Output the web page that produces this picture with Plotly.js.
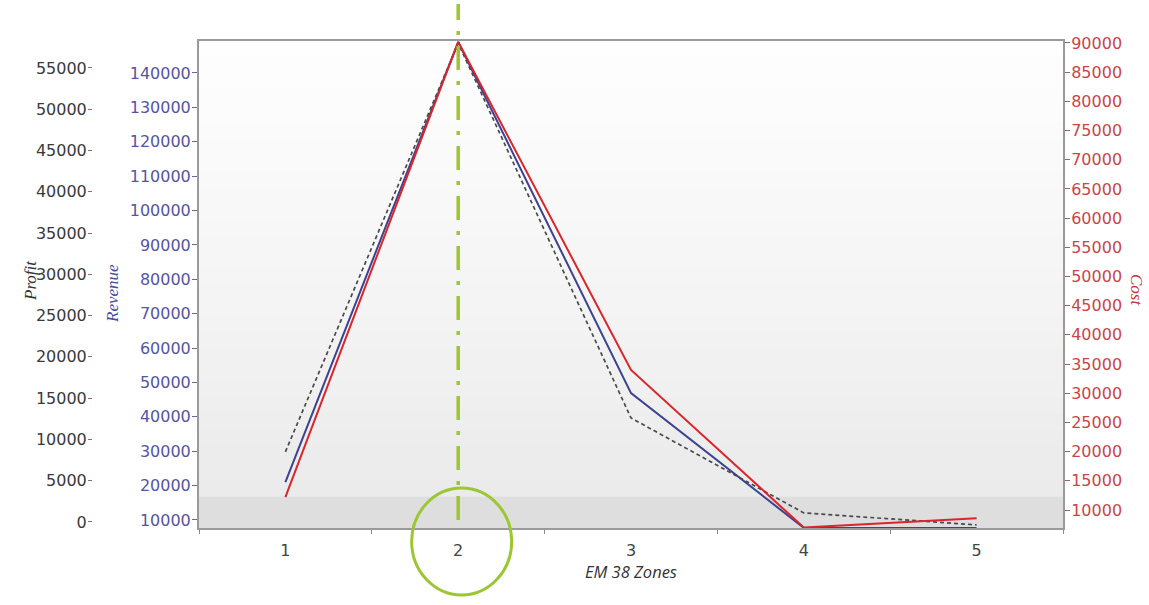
<!DOCTYPE html>
<html>
<head>
<meta charset="utf-8">
<script src="https://cdn.plot.ly/plotly-3.0.1.min.js"></script>
<style>
html,body{margin:0;padding:0;background:#fff;}
#chart{width:1149px;height:605px;}
</style>
</head>
<body>
<div id="chart"></div>
<script>
// ---- data ----
const zones = [1, 2, 3, 4, 5];
const zoneLabels = ['1', '2', '3', '4', '5'];
const revenue = [21000, 149000, 46900, 7700, 7700];
const cost = [12200, 90200, 34000, 7000, 8600];
const profit = [8500, 58000, 12600, 1100, -350];
const highlightZone = 2;

// ---- layout constants ----
const W = 1149, H = 605;
const plotL = 199, plotR = 1063, plotT = 41, plotB = 528;
const xDom = [plotL / W, plotR / W];
const xRange = [0.5, 5.5];
const paperH = plotB - plotT;
function xPaper(v) { return xDom[0] + (v - xRange[0]) / (xRange[1] - xRange[0]) * (xDom[1] - xDom[0]); }
function yPaperFromPx(px) { return (plotB - px) / paperH; }

const tickFam = 'DejaVu Sans, sans-serif';
const green = '#9dc634';

const traces = [
  {x: zones, y: profit, yaxis: 'y2', mode: 'lines', name: 'Profit',
   line: {color: '#4a4a4a', width: 1.7, dash: '4px,3px'}},
  {x: zones, y: revenue, yaxis: 'y', mode: 'lines', name: 'Revenue',
   line: {color: '#3b4391', width: 2}},
  {x: zones, y: cost, yaxis: 'y3', mode: 'lines', name: 'Cost',
   line: {color: '#d8262c', width: 2}}
];

// background gradient bands (white at top to light grey at bottom)
const shapes = [];
const nB = 30;
for (let i = 0; i < nB; i++) {
  const t0 = i / nB, t1 = (i + 1) / nB; // t from bottom 0 to top 1
  const g = Math.round(231 + (254 - 231) * Math.pow(t1, 0.8));
  shapes.push({type: 'rect', xref: 'x domain', yref: 'y domain', x0: 0, x1: 1, y0: t0, y1: t1 + 0.002,
    layer: 'below', line: {width: 0}, fillcolor: `rgb(${g},${g},${g})`});
}
shapes.push({type: 'rect', xref: 'x domain', yref: 'y domain', x0: 0, x1: 1, y0: 0, y1: 0.064,
  layer: 'below', line: {width: 0}, fillcolor: '#dedede'});

// highlight: dash-dot vertical line and circle
const hx = xPaper(highlightZone);
shapes.push({type: 'line', xref: 'paper', yref: 'paper', x0: hx, x1: hx,
  y0: yPaperFromPx(520), y1: yPaperFromPx(4),
  line: {color: green, width: 3.5, dash: '24px,11px,4px,11px'}});
const rx = 50 / (plotR - plotL) * (xDom[1] - xDom[0]);
const cx = xPaper(highlightZone + 0.02);
shapes.push({type: 'circle', xref: 'paper', yref: 'paper',
  x0: cx - rx, x1: cx + rx, y0: yPaperFromPx(595), y1: yPaperFromPx(488),
  line: {color: green, width: 3}});

const titleFont = 'Liberation Serif, serif';
const annotations = [
  {text: '<i>Profit</i>', xref: 'paper', yref: 'paper', x: 30 / W, y: yPaperFromPx(281), showarrow: false,
   textangle: -90, font: {family: titleFont, size: 17, color: '#333'}, xanchor: 'center', yanchor: 'middle'},
  {text: '<i>Revenue</i>', xref: 'paper', yref: 'paper', x: 112 / W, y: yPaperFromPx(294), showarrow: false,
   textangle: -90, font: {family: titleFont, size: 17, color: '#4b4b9b'}, xanchor: 'center', yanchor: 'middle'},
  {text: '<i>Cost</i>', xref: 'paper', yref: 'paper', x: 1137 / W, y: yPaperFromPx(290), showarrow: false,
   textangle: 90, font: {family: titleFont, size: 17, color: '#c8343a'}, xanchor: 'center', yanchor: 'middle'}
];

const layout = {
  width: W, height: H,
  paper_bgcolor: '#ffffff',
  plot_bgcolor: 'rgba(0,0,0,0)',
  showlegend: false,
  margin: {l: 0, r: 0, t: plotT, b: H - plotB, pad: 0},
  xaxis: {
    domain: xDom, range: xRange, tickvals: zones, ticktext: zoneLabels,
    ticks: '', showgrid: false, zeroline: false, ticklabelstandoff: 7,
    showline: true, mirror: true, linecolor: '#9a9a9a', linewidth: 2,
    tickfont: {family: tickFam, size: 16, color: '#444'},
    minor: {dtick: 1, tick0: 0.5, ticks: 'outside', ticklen: 4, tickcolor: '#888', showgrid: false},
    title: {text: '<i>EM 38 Zones</i>', font: {family: 'Open Sans, sans-serif', size: 16.5, color: '#333'}, standoff: 6}
  },
  yaxis: {
    range: [7670, 149300], tick0: 0, dtick: 10000, tickformat: 'd',
    ticks: 'outside', ticklen: 5, tickcolor: '#6a6a9a', ticklabelstandoff: -2,
    showgrid: false, zeroline: false, showline: true, linecolor: '#9a9a9a', linewidth: 2,
    tickfont: {family: tickFam, size: 16, color: '#55559e'}
  },
  yaxis2: {
    overlaying: 'y', anchor: 'free', side: 'left', position: 92 / W,
    range: [-730, 58270], tick0: 0, dtick: 5000, tickformat: 'd',
    ticks: 'outside', ticklen: 4, tickcolor: '#777', ticklabelstandoff: -2,
    showgrid: false, zeroline: false, showline: false,
    tickfont: {family: tickFam, size: 16, color: '#3a3a3a'}
  },
  yaxis3: {
    overlaying: 'y', anchor: 'x', side: 'right',
    range: [6920, 90340], tick0: 0, dtick: 5000, tickformat: 'd',
    ticks: 'outside', ticklen: 5, tickcolor: '#a06060', ticklabelstandoff: -2,
    showgrid: false, zeroline: false, showline: true, linecolor: '#9a9a9a', linewidth: 2,
    tickfont: {family: tickFam, size: 16, color: '#c8454a'}
  },
  shapes: shapes,
  annotations: annotations
};

Plotly.newPlot('chart', traces, layout, {displayModeBar: false, staticPlot: true});
</script>
</body>
</html>
